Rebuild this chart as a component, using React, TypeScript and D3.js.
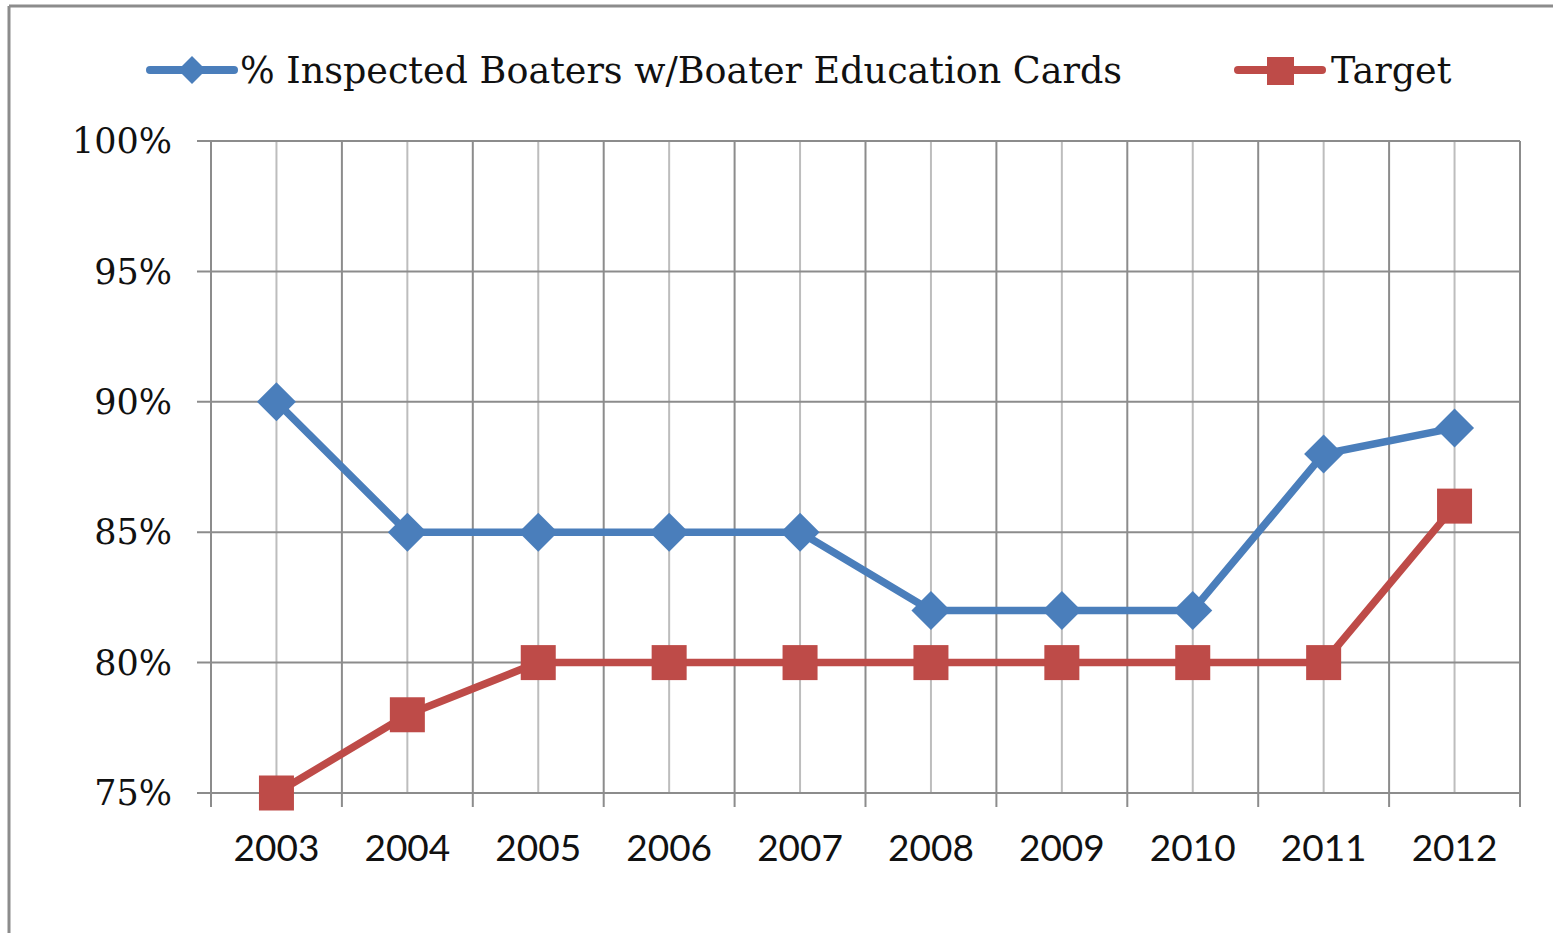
import React from "react";
import * as d3 from "d3";

const years = ["2003", "2004", "2005", "2006", "2007", "2008", "2009", "2010", "2011", "2012"];
const inspected = [90, 85, 85, 85, 85, 82, 82, 82, 88, 89];
const target = [75, 78, 80, 80, 80, 80, 80, 80, 80, 86];
const yTicks = [75, 80, 85, 90, 95, 100];
const seriesNames = ["% Inspected Boaters w/Boater Education Cards", "Target"];

const W = 1553, H = 933;
const M = { left: 211, right: 1520, top: 141, bottom: 793 };
const BLUE = "#4A7EBB";
const RED = "#BE4B48";

export default function App() {
  const x = d3.scaleBand<string>().domain(years).range([M.left, M.right]).padding(0);
  const y = d3.scaleLinear().domain([75, 100]).range([M.bottom, M.top]);
  const cx = (d: string) => (x(d) as number) + x.bandwidth() / 2;
  const line = d3.line<number>().x((_, i) => cx(years[i])).y((v) => y(v));
  const boundaries = years.map((d) => x(d) as number).concat([M.right]);

  const diamond = (px: number, py: number, r: number) =>
    `M${px},${py - r}L${px + r},${py}L${px},${py + r}L${px - r},${py}Z`;

  return (
    <svg width={W} height={H} style={{ position: "absolute", left: 0, top: 0, background: "#fff" }}>
      {/* frame */}
      <line x1={9} y1={6} x2={9} y2={H} stroke="#8c8c8c" strokeWidth={3} />
      <line x1={9} y1={6} x2={W} y2={6} stroke="#8c8c8c" strokeWidth={3} />

      {/* center gridlines (lighter) */}
      {years.map((d) => (
        <line key={"c" + d} x1={cx(d)} x2={cx(d)} y1={M.top} y2={M.bottom} stroke="#bdbdbd" strokeWidth={2} />
      ))}
      {/* boundary gridlines */}
      {boundaries.map((b, i) => (
        <line key={"b" + i} x1={b} x2={b} y1={M.top} y2={M.bottom + 14} stroke="#8c8c8c" strokeWidth={2} />
      ))}
      {/* horizontal gridlines */}
      {yTicks.map((t) => (
        <line key={"h" + t} x1={M.left - 14} x2={M.right} y1={y(t)} y2={y(t)} stroke="#8c8c8c" strokeWidth={2} />
      ))}

      {/* y labels */}
      {yTicks.map((t) => (
        <text key={"yl" + t} x={172} y={y(t)} dy="0.35em" textAnchor="end"
          fontFamily="'DejaVu Serif', serif" fontSize={35} fill="#111">{t + "%"}</text>
      ))}
      {/* x labels */}
      {years.map((d) => (
        <text key={"xl" + d} x={cx(d)} y={848} dy="0.35em" textAnchor="middle"
          fontFamily="Lato, 'Open Sans', sans-serif" fontSize={37} fill="#111">{d}</text>
      ))}

      {/* series lines */}
      <path d={line(inspected) || ""} fill="none" stroke={BLUE} strokeWidth={7.5} strokeLinejoin="round" />
      <path d={line(target) || ""} fill="none" stroke={RED} strokeWidth={7.5} strokeLinejoin="round" />
      {inspected.map((v, i) => (
        <path key={"d" + i} d={diamond(cx(years[i]), y(v), 19.5)} fill={BLUE} />
      ))}
      {target.map((v, i) => (
        <rect key={"s" + i} x={cx(years[i]) - 17.5} y={y(v) - 17.5} width={35} height={35} fill={RED} />
      ))}

      {/* legend */}
      <line x1={150} x2={234} y1={70} y2={70} stroke={BLUE} strokeWidth={8} strokeLinecap="round" />
      <path d={diamond(192, 70, 14)} fill={BLUE} />
      <text x={240} y={70} dy="0.35em" fontFamily="'DejaVu Serif', serif" fontSize={36.5} fill="#111">{seriesNames[0]}</text>
      <line x1={1238} x2={1322} y1={70} y2={70} stroke={RED} strokeWidth={8} strokeLinecap="round" />
      <rect x={1267} y={57} width={27} height={28} fill={RED} />
      <text x={1331} y={70} dy="0.35em" fontFamily="'DejaVu Serif', serif" fontSize={36.5} fill="#111">{seriesNames[1]}</text>
    </svg>
  );
}
